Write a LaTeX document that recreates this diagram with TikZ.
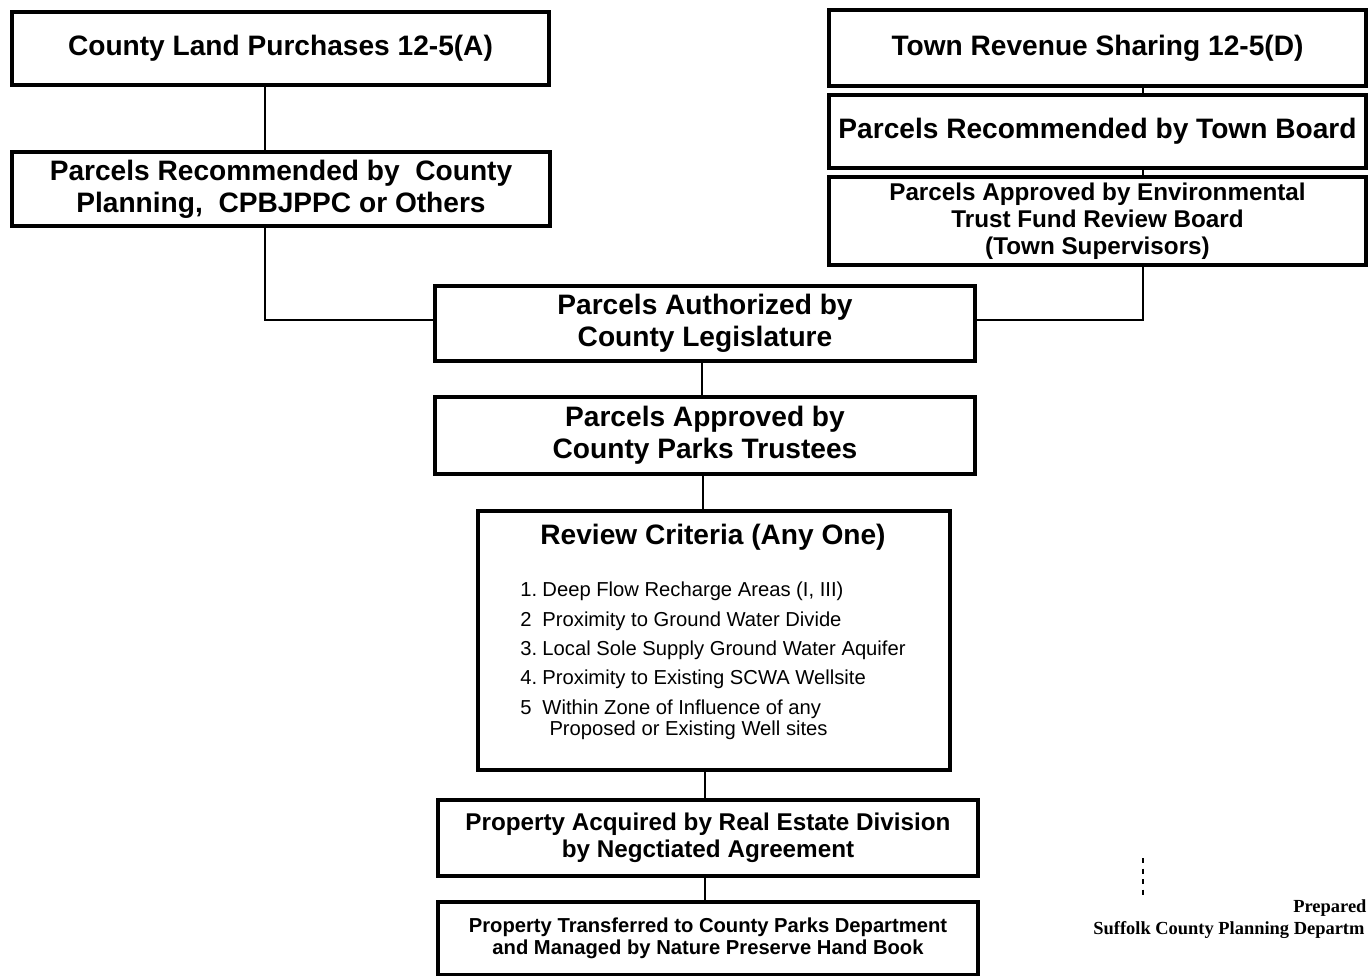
\documentclass[tikz,border=0pt]{standalone}
\usepackage{fontspec}
\setmainfont{Liberation Sans}
\newfontfamily\prepfont{Liberation Serif}
\usetikzlibrary{calc}

\begin{document}
\begin{tikzpicture}[x=0.02cm,y=-0.02cm,
	stagebox/.style={draw,line width=2.2pt,align=center,inner sep=0pt,font=\fontsize{16}{18}\selectfont\bfseries},
	smallbox/.style={stagebox,font=\fontsize{13.8}{15.3}\selectfont\bfseries},
	link/.style={line width=1.6pt}]

	\useasboundingbox (0,0) rectangle (1370,975);
	\clip (0,0) rectangle (1370,975);

	% left branch

	\node[stagebox,minimum width=10.74cm,minimum height=1.46cm] (landbuy) at (280.5,48.5) {County Land Purchases 12-5(A)};
	\node[stagebox,minimum width=10.76cm,minimum height=1.48cm] (countyrec) at (281,189) {Parcels Recommended by\ \ County\\Planning,\ \ CPBJPPC or Others};

	% right branch

	\node[stagebox,minimum width=10.74cm,minimum height=1.52cm] (townshare) at (1097.5,48) {Town Revenue Sharing 12-5(D)};
	\node[stagebox,minimum width=10.74cm,minimum height=1.46cm] (townrec) at (1097.5,131.5) {Parcels Recommended by Town Board};
	\node[smallbox,minimum width=10.74cm,minimum height=1.76cm] (trustok) at (1097.5,221) {Parcels Approved by Environmental\\Trust Fund Review Board\\(Town Supervisors)};

	% main column

	\node[stagebox,minimum width=10.8cm,minimum height=1.5cm] (legis) at (705,323.5) {Parcels Authorized by\\County Legislature};
	\node[stagebox,minimum width=10.8cm,minimum height=1.54cm] (parksok) at (705,435.5) {Parcels Approved by\\County Parks Trustees};
	\node[stagebox,minimum width=9.44cm,minimum height=5.18cm] (criteria) at (714,640.5) {};
	\node[font=\fontsize{16}{18}\selectfont\bfseries] (crittitle) at (713,537) {Review Criteria (Any One)};
	\node[anchor=north west,inner sep=0pt,font=\fontsize{11.5}{16.7}\selectfont] (critlist) at (520,576) {%
		\begin{tabular}{@{}l@{\hspace{3pt}}l@{}}
			1. & Deep Flow Recharge Areas (I, III)\\
			2  & Proximity to Ground Water Divide\\
			3. & Local Sole Supply Ground Water Aquifer\\
			4. & Proximity to Existing SCWA Wellsite\\
			5  & Within Zone of Influence of any\\[-4.7pt]
			   & \hspace{4pt}Proposed or Existing Well sites
		\end{tabular}};
	\node[smallbox,minimum width=10.8cm,minimum height=1.52cm] (acquire) at (708,838) {Property Acquired by Real Estate Division\\by Negctiated Agreement};
	\node[stagebox,font=\fontsize{11.5}{12.5}\selectfont\bfseries,minimum width=10.8cm,minimum height=1.46cm] (transfer) at (708,938.5) {Property Transferred to County Parks Department\\and Managed by Nature Preserve Hand Book};

	% connectors

	\coordinate (leftrun) at (265,320);
	\coordinate (rightrun) at (1143,320);
	\draw[link] (landbuy.south -| leftrun) -- (countyrec.north -| leftrun);
	\draw[link] (countyrec.south -| leftrun) |- (legis.west |- leftrun);
	\draw[link] (townshare.south -| rightrun) -- (townrec.north -| rightrun);
	\draw[link] (townrec.south -| rightrun) -- (trustok.north -| rightrun);
	\draw[link] (trustok.south -| rightrun) |- (legis.east |- rightrun);
	\draw[link] ($(legis.south)+(-3,0)$) -- ($(parksok.north)+(-3,0)$);
	\draw[link] ($(parksok.south)+(-2,0)$) -- (criteria.north -| 703,0);
	\draw[link] (criteria.south -| acquire.north) ++(-3,0) -- ($(acquire.north)+(-3,0)$);
	\draw[link] (acquire.south) ++(-3,0) -- ($(transfer.north)+(-3,0)$);

	% stray mark and credit

	\draw[dashed,line width=0.8pt] (1143,858) -- (1143,895);
	\node[anchor=west,inner sep=0pt,font=\prepfont\fontsize{10.5}{12}\selectfont\bfseries] (prep) at (1293,908) {Prepared};
	\node[anchor=west,inner sep=0pt,font=\prepfont\fontsize{10.5}{12}\selectfont\bfseries] (dept) at (1093,930) {Suffolk County Planning Departm};
\end{tikzpicture}
\end{document}
